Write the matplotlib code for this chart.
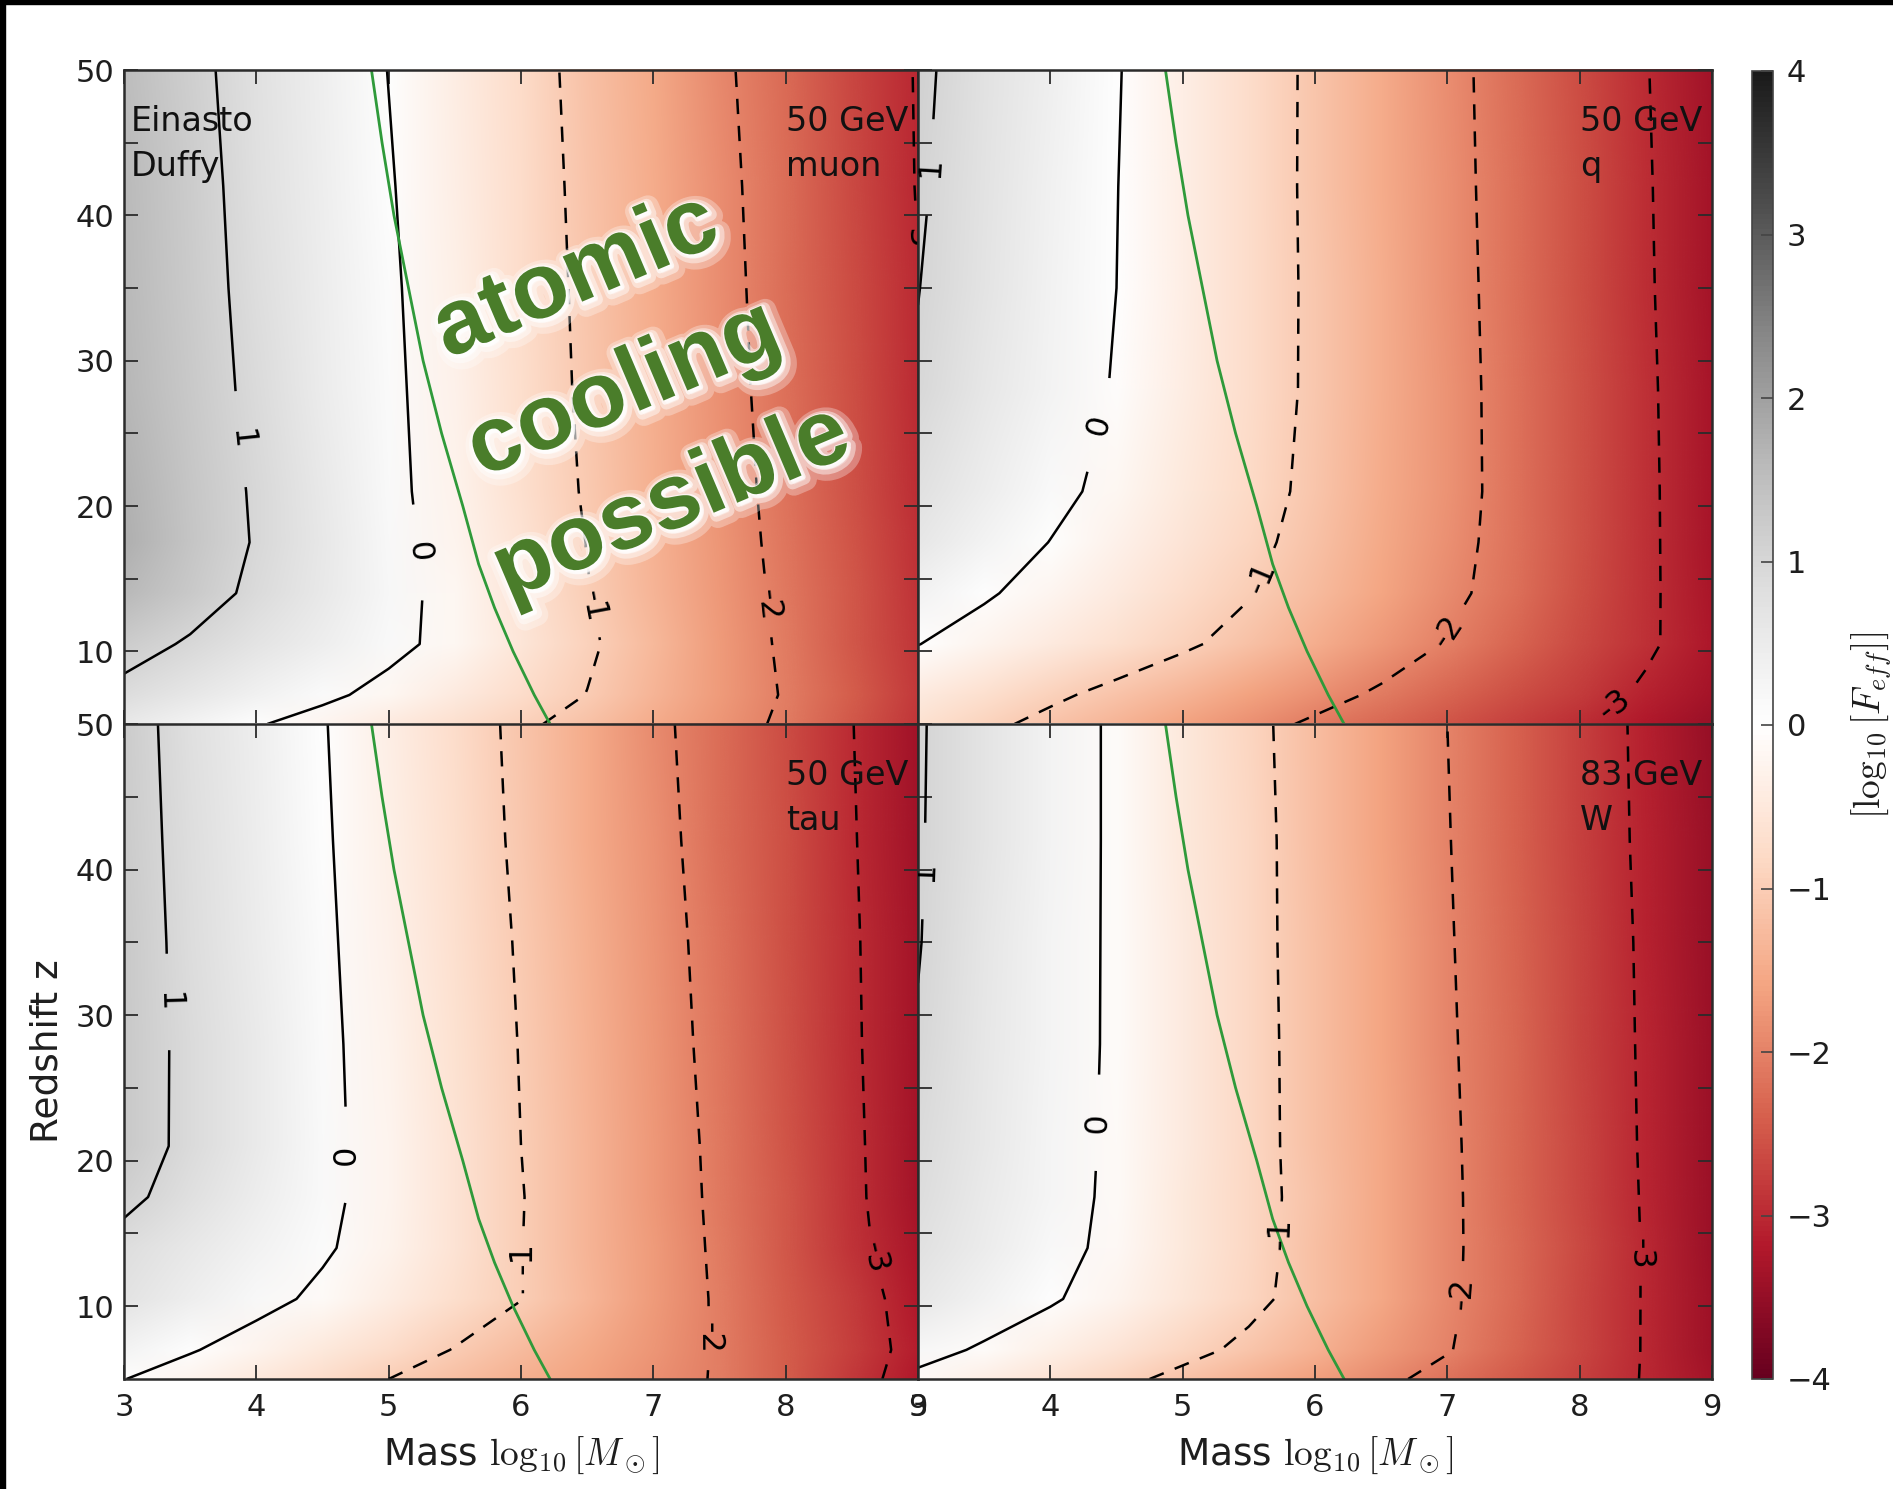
import numpy as np
import matplotlib
matplotlib.use("Agg")
import matplotlib.pyplot as plt
from matplotlib.image import NonUniformImage
from matplotlib.colors import Normalize
from matplotlib import patheffects as pe
from matplotlib.patches import Rectangle

# ---------------------------------------------------------------------------
# Data: log10(F_eff) on a (redshift, halo mass) grid for four channels
# ---------------------------------------------------------------------------
mass_grid = [3.0, 3.5, 4.0, 4.5, 5.0, 5.5, 6.0, 6.5, 7.0, 7.5, 8.0, 8.5, 9.0]
z_grid = [5, 7, 10.5, 14, 17.5, 21, 28, 35, 42, 50]

feff_muon = [
    [0.54, 0.29, 0.04, -0.20, -0.44, -0.67, -0.91, -1.18, -1.48, -1.77, -2.09, -2.48, -2.87],
    [0.85, 0.60, 0.36, 0.11, -0.16, -0.44, -0.73, -1.01, -1.35, -1.69, -2.04, -2.43, -2.82],
    [1.21, 0.94, 0.68, 0.41, 0.15, -0.17, -0.55, -0.92, -1.31, -1.69, -2.08, -2.47, -2.86],
    [1.60, 1.25, 0.89, 0.54, 0.19, -0.18, -0.58, -0.98, -1.36, -1.73, -2.11, -2.50, -2.89],
    [1.75, 1.35, 0.96, 0.57, 0.17, -0.22, -0.62, -1.01, -1.39, -1.76, -2.14, -2.53, -2.92],
    [1.73, 1.33, 0.94, 0.54, 0.14, -0.26, -0.66, -1.05, -1.42, -1.79, -2.16, -2.55, -2.94],
    [1.65, 1.26, 0.88, 0.49, 0.11, -0.29, -0.69, -1.09, -1.45, -1.82, -2.20, -2.59, -2.98],
    [1.60, 1.22, 0.84, 0.46, 0.08, -0.32, -0.72, -1.11, -1.48, -1.85, -2.22, -2.61, -2.99],
    [1.58, 1.19, 0.81, 0.42, 0.04, -0.35, -0.75, -1.13, -1.50, -1.87, -2.25, -2.64, -3.02],
    [1.53, 1.15, 0.76, 0.38, -0.01, -0.39, -0.78, -1.16, -1.53, -1.91, -2.28, -2.66, -3.03],
]

feff_q = [
    [-0.65, -0.89, -1.13, -1.37, -1.60, -1.84, -2.07, -2.30, -2.52, -2.74, -2.96, -3.20, -3.45],
    [-0.45, -0.68, -0.91, -1.14, -1.37, -1.60, -1.84, -2.07, -2.32, -2.57, -2.81, -3.07, -3.34],
    [0.01, -0.22, -0.45, -0.68, -0.92, -1.18, -1.46, -1.75, -2.03, -2.33, -2.63, -2.93, -3.25],
    [0.34, 0.06, -0.20, -0.46, -0.72, -0.97, -1.27, -1.58, -1.88, -2.21, -2.57, -2.92, -3.28],
    [0.60, 0.29, -0.01, -0.29, -0.58, -0.87, -1.18, -1.51, -1.84, -2.18, -2.55, -2.92, -3.29],
    [0.75, 0.45, 0.15, -0.16, -0.48, -0.80, -1.12, -1.47, -1.81, -2.17, -2.55, -2.92, -3.30],
    [0.95, 0.62, 0.29, -0.04, -0.39, -0.74, -1.09, -1.45, -1.81, -2.18, -2.56, -2.93, -3.31],
    [1.01, 0.68, 0.34, 0.00, -0.37, -0.73, -1.09, -1.46, -1.82, -2.20, -2.57, -2.95, -3.32],
    [1.06, 0.71, 0.36, 0.01, -0.36, -0.73, -1.10, -1.47, -1.84, -2.21, -2.59, -2.96, -3.34],
    [1.10, 0.74, 0.39, 0.03, -0.35, -0.72, -1.10, -1.47, -1.85, -2.23, -2.60, -2.98, -3.35],
]

feff_tau = [
    [0.01, -0.25, -0.50, -0.75, -1.00, -1.20, -1.41, -1.61, -1.82, -2.04, -2.43, -2.82, -3.21],
    [0.30, 0.04, -0.23, -0.49, -0.75, -1.02, -1.27, -1.52, -1.78, -2.04, -2.41, -2.78, -3.15],
    [0.70, 0.43, 0.17, -0.11, -0.40, -0.70, -0.99, -1.34, -1.70, -2.06, -2.44, -2.81, -3.19],
    [0.83, 0.58, 0.32, 0.07, -0.26, -0.62, -0.99, -1.35, -1.71, -2.08, -2.48, -2.88, -3.28],
    [1.12, 0.79, 0.46, 0.13, -0.23, -0.61, -0.98, -1.35, -1.72, -2.10, -2.50, -2.91, -3.32],
    [1.25, 0.88, 0.51, 0.14, -0.24, -0.62, -1.00, -1.37, -1.74, -2.11, -2.52, -2.92, -3.32],
    [1.26, 0.88, 0.50, 0.12, -0.26, -0.64, -1.02, -1.40, -1.77, -2.15, -2.54, -2.94, -3.33],
    [1.25, 0.86, 0.48, 0.09, -0.29, -0.67, -1.05, -1.43, -1.80, -2.18, -2.57, -2.95, -3.34],
    [1.22, 0.84, 0.45, 0.06, -0.32, -0.71, -1.09, -1.47, -1.84, -2.22, -2.59, -2.97, -3.35],
    [1.20, 0.81, 0.42, 0.03, -0.35, -0.74, -1.12, -1.50, -1.88, -2.25, -2.62, -2.99, -3.35],
]

feff_w = [
    [-0.12, -0.37, -0.62, -0.87, -1.13, -1.38, -1.63, -1.89, -2.16, -2.45, -2.74, -3.03, -3.32],
    [0.19, -0.07, -0.33, -0.59, -0.85, -1.11, -1.40, -1.69, -1.97, -2.32, -2.67, -3.03, -3.38],
    [0.60, 0.33, 0.06, -0.25, -0.56, -0.87, -1.21, -1.56, -1.92, -2.28, -2.66, -3.03, -3.40],
    [0.78, 0.48, 0.18, -0.14, -0.49, -0.83, -1.19, -1.55, -1.91, -2.28, -2.65, -3.03, -3.41],
    [0.85, 0.53, 0.22, -0.11, -0.47, -0.82, -1.18, -1.55, -1.91, -2.29, -2.66, -3.04, -3.41],
    [0.90, 0.57, 0.24, -0.10, -0.46, -0.83, -1.19, -1.55, -1.92, -2.29, -2.67, -3.05, -3.42],
    [0.97, 0.62, 0.27, -0.09, -0.46, -0.83, -1.20, -1.57, -1.94, -2.31, -2.69, -3.06, -3.43],
    [1.02, 0.65, 0.28, -0.09, -0.46, -0.84, -1.21, -1.58, -1.96, -2.33, -2.70, -3.07, -3.45],
    [1.04, 0.66, 0.29, -0.09, -0.47, -0.84, -1.22, -1.60, -1.98, -2.35, -2.72, -3.09, -3.46],
    [1.05, 0.67, 0.29, -0.09, -0.47, -0.86, -1.24, -1.62, -2.00, -2.37, -2.74, -3.10, -3.47],
]

channel_labels = ["50 GeV\nmuon", "50 GeV\nq", "50 GeV\ntau", "83 GeV\nW"]
profile_label = "Einasto\nDuffy"
levels_neg = [-3, -2, -1]
levels_pos = [0, 1]

# Atomic-cooling threshold mass versus redshift
cooling_z = [5, 7, 10, 13, 16, 20, 25, 30, 35, 40, 45, 50]
cooling_mass = [6.22, 6.10, 5.94, 5.80, 5.68, 5.56, 5.40, 5.26, 5.15, 5.04, 4.95, 4.87]

x_ticks = [3, 4, 5, 6, 7, 8, 9]
z_major = [10, 20, 30, 40, 50]
z_minor = [15, 25, 35, 45]
cbar_ticks = [-4, -3, -2, -1, 0, 1, 2, 3, 4]

# Where the inline contour labels sit, per panel: negative levels, then 0 and 1
label_spots_neg = [
    [(8.96, 38.8), (7.81, 13.1), (6.53, 13.1)],
    [(8.28, 6.1), (7.05, 11.1), (5.62, 15.0)],
    [(8.66, 13.3), (7.40, 7.8), (6.02, 13.3)],
    [(8.46, 13.6), (7.12, 10.9), (5.74, 15.0)],
]
label_spots_pos = [
    [(5.22, 16.8), (3.88, 24.6)],
    [(4.40, 25.5), (3.09, 43.3)],
    [(4.69, 20.4), (3.32, 30.9)],
    [(4.37, 22.6), (3.05, 39.9)],
]

# ---------------------------------------------------------------------------
plt.rcParams.update({
    "font.family": ["DejaVu Sans"],
    "mathtext.fontset": "cm",
    "lines.scale_dashes": False,
    "lines.dashed_pattern": [11, 8.5],
    "contour.negative_linestyle": "dashed",
})

W, H = 1893, 1489
fig = plt.figure(figsize=(W / 100, H / 100), dpi=100, facecolor="white")


def box(x0, y0, x1, y1):
    return [x0 / W, 1 - y1 / H, (x1 - x0) / W, (y1 - y0) / H]


panel_boxes = [(124, 70, 918, 724), (918, 70, 1712, 724),
               (124, 724, 918, 1379), (918, 724, 1712, 1379)]
fields = [feff_muon, feff_q, feff_tau, feff_w]

cmap = plt.get_cmap("RdGy")
norm = Normalize(vmin=-4, vmax=4)
spine_col = "#2b2b2b"
text_col = "#1e1e1e"
axes = []

for k, (pb, field) in enumerate(zip(panel_boxes, fields)):
    ax = fig.add_axes(box(*pb))
    axes.append(ax)
    m = np.asarray(mass_grid)
    z = np.asarray(z_grid)
    f = np.asarray(field)

    im = NonUniformImage(ax, interpolation="bilinear", cmap=cmap, norm=norm,
                         extent=(3, 9, 5, 50))
    im.set_data(m, z, f)
    ax.add_image(im)

    cs_neg = ax.contour(m, z, f, levels=levels_neg, colors="k",
                        linewidths=1.8, linestyles="dashed")
    ax.clabel(cs_neg, fmt="%d", fontsize=23, inline=True,
              inline_spacing=16, manual=label_spots_neg[k])
    cs_pos = ax.contour(m, z, f, levels=levels_pos, colors="k",
                        linewidths=1.8, linestyles="solid")
    ax.clabel(cs_pos, fmt="%d", fontsize=23, inline=True,
              inline_spacing=38, manual=label_spots_pos[k])

    ax.plot(cooling_mass, cooling_z, color="#2f9a3a", lw=2.0)

    ax.set_xlim(3, 9)
    ax.set_ylim(5, 50)
    ax.set_xticks(x_ticks)
    ax.set_yticks(z_major)
    ax.set_yticks(z_minor, minor=True)
    ax.tick_params(which="both", direction="in", top=True, right=True,
                   length=10, width=1.3, color=spine_col, labelsize=22,
                   labelcolor=text_col)
    ax.tick_params(axis="y", pad=7)
    ax.tick_params(axis="x", pad=10)
    for s in ax.spines.values():
        s.set_linewidth(1.8)
        s.set_edgecolor(spine_col)

    if k < 2:
        ax.tick_params(labelbottom=False)
    else:
        ax.set_xlabel(r"Mass $\log_{10}[M_\odot]$", fontsize=27,
                      labelpad=9, color=text_col)
    if k % 2 == 1:
        ax.tick_params(labelleft=False)

    ax.text(8.0, 47.6, channel_labels[k], fontsize=24, ha="left", va="top",
            linespacing=1.45, color="#111111")

axes[2].set_ylabel("Redshift z", fontsize=27, labelpad=7, color=text_col)
axes[0].text(3.05, 47.6, profile_label, fontsize=24, ha="left", va="top",
             linespacing=1.45, color="#111111")

# Annotation over the top-left panel, with a soft white halo
glow = [
    pe.SimplePatchShadow(offset=(3, -3), shadow_rgbFace="white", alpha=0.3,
                         linewidth=16, foreground="white"),
    pe.SimplePatchShadow(offset=(2, -2), shadow_rgbFace="white", alpha=0.45,
                         linewidth=9, foreground="white"),
    pe.SimplePatchShadow(offset=(1, -1), shadow_rgbFace="white", alpha=0.7,
                         linewidth=4, foreground="white"),
    pe.Normal(),
]
axes[0].text(6.78, 27.9, "atomic\ncooling\npossible", fontsize=67,
             fontweight="bold", family=["Liberation Sans", "DejaVu Sans"],
             color="#4a7d2a", rotation=23, rotation_mode="anchor",
             ha="center", va="center", multialignment="center",
             linespacing=1.55, path_effects=glow, zorder=20)

# Colour bar
cax = fig.add_axes(box(1752, 71, 1773, 1379))
sm = matplotlib.cm.ScalarMappable(norm=norm, cmap=cmap)
cb = fig.colorbar(sm, cax=cax, ticks=cbar_ticks)
cb.outline.set_edgecolor("#444444")
cb.outline.set_linewidth(1.2)
cax.tick_params(direction="in", length=9, width=1.2, color="#444444",
                labelsize=22, labelcolor=text_col, pad=10)
cb.set_label(r"$[\log_{10}[F_{eff}]]$", fontsize=27, labelpad=13,
             color=text_col)

# Dark frame along the top and left edges
fig.add_artist(Rectangle((0, 1 - 4 / H), 1, 4 / H, transform=fig.transFigure,
                         color="black", zorder=50))
fig.add_artist(Rectangle((0, 0), 5 / W, 1, transform=fig.transFigure,
                         color="black", zorder=50))

fig.savefig("out.png", dpi=100, facecolor="white")
